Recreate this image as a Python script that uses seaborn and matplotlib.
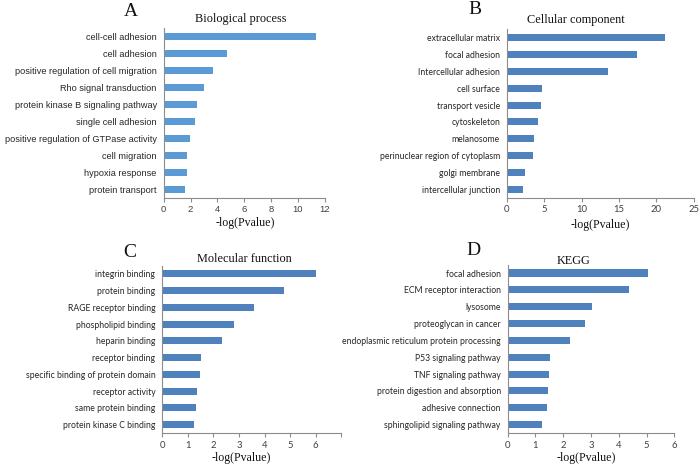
import pandas as pd
import matplotlib
matplotlib.use("Agg")
import matplotlib.pyplot as plt
import seaborn as sns

sns.set_theme(style="white")

# panel A - Biological process
bp_terms = ["cell-cell adhesion", "cell adhesion", "positive regulation of cell migration",
            "Rho signal transduction", "protein kinase B signaling pathway", "single cell adhesion",
            "positive regulation of GTPase activity", "cell migration", "hypoxia response",
            "protein transport"]
bp_vals = [11.34, 4.70, 3.66, 3.03, 2.46, 2.36, 1.97, 1.72, 1.72, 1.62]

# panel B - Cellular component
cc_terms = ["extracellular matrix", "focal adhesion", "Intercellular adhesion", "cell surface",
            "transport vesicle", "cytoskeleton", "melanosome", "perinuclear region of cytoplasm",
            "golgi membrane", "intercellular junction"]
cc_vals = [21.1, 17.45, 13.5, 4.7, 4.55, 4.2, 3.57, 3.44, 2.37, 2.19]

# panel C - Molecular function
mf_terms = ["integrin binding", "protein binding", "RAGE receptor binding", "phospholipid binding",
            "heparin binding", "receptor binding", "specific binding of protein domain",
            "receptor activity", "same protein binding", "protein kinase C binding"]
mf_vals = [6.0, 4.77, 3.57, 2.82, 2.33, 1.51, 1.49, 1.37, 1.30, 1.24]

# panel D - KEGG
kegg_terms = ["focal adhesion", "ECM receptor interaction", "lysosome", "proteoglycan in cancer",
              "endoplasmic reticulum protein processing", "P53 signaling pathway",
              "TNF signaling pathway", "protein digestion and absorption", "adhesive connection",
              "sphingolipid signaling pathway"]
kegg_vals = [5.06, 4.38, 3.02, 2.78, 2.23, 1.52, 1.49, 1.46, 1.43, 1.24]

W, H = 700, 465
fig = plt.figure(figsize=(7, 4.65), dpi=100)
serif = "Liberation Serif"
spine_col = "#8c8c8c"


def panel(rect, terms, vals, xmax, step, color, font, fsize, title, title_xy, letter, letter_xy,
          xlab_xy, hide_last=False):
    l, t, r, b = rect
    ax = fig.add_axes([l / W, 1 - b / H, (r - l) / W, (b - t) / H])
    d = pd.DataFrame({"term": terms, "val": vals})
    sns.barplot(data=d, x="val", y="term", orient="h", color=color, width=0.42,
                saturation=1, ax=ax, edgecolor="none")
    ax.set_xlim(0, xmax)
    ax.set_ylim(len(terms) - 0.5, -0.5)
    ticks = list(range(0, xmax + 1, step))
    ax.set_xticks(ticks)
    labs = [str(v) for v in ticks]
    if hide_last:
        labs[-1] = ""
    ax.set_xticklabels(labs, fontfamily=font, fontsize=6.8, color="#404040")
    ax.set_yticks(range(len(terms)))
    ax.set_yticklabels(terms, fontfamily=font, fontsize=fsize, color="#262626")
    ax.set_yticks([i - 0.5 for i in range(len(terms) + 1)], minor=True)
    ax.tick_params(axis="y", which="major", length=0, pad=5)
    ax.tick_params(axis="y", which="minor", length=3, color=spine_col, width=0.8, direction="out")
    ax.tick_params(axis="x", which="major", length=3, color=spine_col, width=0.8,
                   direction="out", pad=2.5, bottom=True)
    ax.set_xlabel("")
    ax.set_ylabel("")
    for s in ["top", "right"]:
        ax.spines[s].set_visible(False)
    for s in ["left", "bottom"]:
        ax.spines[s].set_color(spine_col)
        ax.spines[s].set_linewidth(0.8)
    fig.text(title_xy[0] / W, 1 - title_xy[1] / H, title, family=serif, fontsize=8.8,
             ha="center", va="center", color="#111111")
    fig.text(letter_xy[0] / W, 1 - letter_xy[1] / H, letter, family=serif, fontsize=14,
             ha="center", va="center", color="#111111")
    fig.text(xlab_xy[0] / W, 1 - xlab_xy[1] / H, "-log(Pvalue)", family=serif, fontsize=8.6,
             ha="center", va="center", color="#111111")
    return ax


panel((163.7, 28, 324.5, 197.7), bp_terms, bp_vals, 12, 2, "#5b9bd5", "Liberation Sans", 6.6,
      "Biological process", (241, 19), "A", (131, 12), (245, 223))
panel((507, 29.3, 693.7, 197.7), cc_terms, cc_vals, 25, 5, "#4f81bd", "Lato", 6.2,
      "Cellular component", (575.5, 20), "B", (475, 9), (600, 225))
panel((162.3, 265.6, 341.3, 433), mf_terms, mf_vals, 7, 1, "#4f81bd", "Lato", 6.2,
      "Molecular function", (244.5, 259), "C", (130, 252), (241, 458), hide_last=True)
panel((507.7, 264.6, 674.3, 433), kegg_terms, kegg_vals, 6, 1, "#4f81bd", "Lato", 6.2,
      "KEGG", (574, 261), "D", (473, 250), (586, 457.5))

fig.savefig("out.png", dpi=100)
